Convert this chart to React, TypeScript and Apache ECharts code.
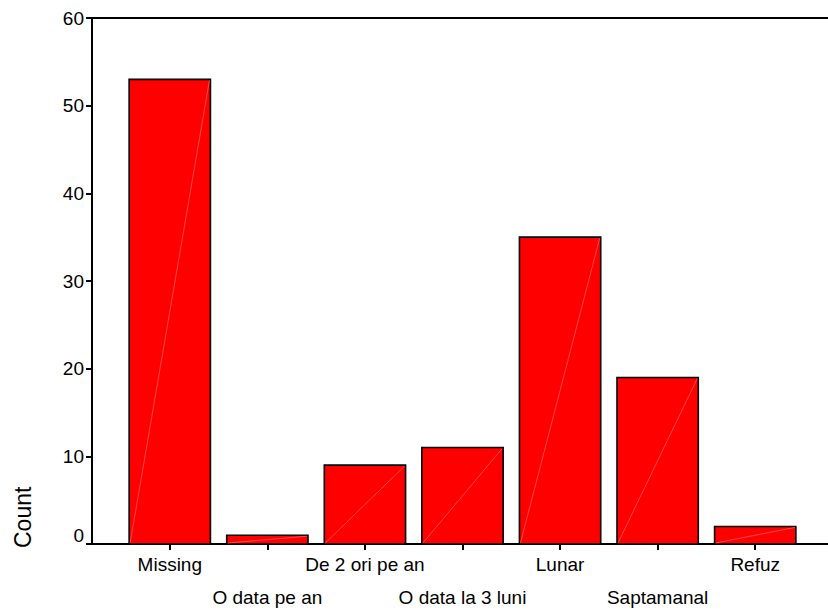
import React, { useEffect, useRef } from "react";
import * as echarts from "echarts";

const categories = [
  "Missing",
  "O data pe an",
  "De 2 ori pe an",
  "O data la 3 luni",
  "Lunar",
  "Saptamanal",
  "Refuz",
];
const counts = [53, 1, 9, 11, 35, 19, 2];
const yTicks = { min: 0, max: 60, interval: 10 };
const yName = "Count";

const FONT = "'Liberation Sans', Arial, sans-serif";

export default function App() {
  const ref = useRef<HTMLDivElement>(null);
  useEffect(() => {
    document.body.style.margin = "0";
    const chart = echarts.init(ref.current!, null, { renderer: "svg" });
    const option: any = {
      animation: false,
      backgroundColor: "#ffffff",
      grid: [
        { left: 92, right: 0, top: 18, bottom: 70 },
        { left: 121, width: 683, top: 18, bottom: 70 },
      ],
      xAxis: [
        {
          gridIndex: 0,
          type: "value",
          min: 0,
          max: 1,
          position: "bottom",
          axisLine: { show: true, lineStyle: { color: "#000", width: 2 } },
          axisTick: { show: false },
          axisLabel: { show: false },
          splitLine: { show: false },
        },
        {
          gridIndex: 0,
          type: "value",
          min: 0,
          max: 1,
          position: "top",
          axisLine: { show: true, lineStyle: { color: "#000", width: 2 } },
          axisTick: { show: false },
          axisLabel: { show: false },
          splitLine: { show: false },
        },
        {
          gridIndex: 1,
          type: "category",
          data: categories,
          boundaryGap: true,
          axisLine: { show: false },
          axisTick: {
            show: true,
            alignWithLabel: true,
            length: 6,
            lineStyle: { color: "#000", width: 2 },
          },
          axisLabel: {
            interval: 0,
            margin: 4,
            color: "#000",
            fontSize: 19,
            fontFamily: FONT,
            lineHeight: 33,
            formatter: (v: string, i: number) => (i % 2 === 1 ? "\n" + v : v),
          },
          splitLine: { show: false },
        },
      ],
      yAxis: [
        {
          gridIndex: 0,
          type: "value",
          min: yTicks.min,
          max: yTicks.max,
          interval: yTicks.interval,
          axisLine: { show: true, lineStyle: { color: "#000", width: 2 } },
          axisTick: { show: true, length: 6, lineStyle: { color: "#000", width: 2 } },
          axisLabel: {
            color: "#000",
            fontSize: 19,
            fontFamily: FONT,
            margin: 8,
            formatter: (v: number) => (v === 0 ? "{z|0}" : String(v)),
            rich: {
              z: {
                fontSize: 19,
                fontFamily: FONT,
                color: "#000",
                padding: [0, 0, 18, 0],
              },
            },
          },
          splitLine: { show: false },
        },
        {
          gridIndex: 1,
          type: "value",
          min: yTicks.min,
          max: yTicks.max,
          show: false,
        },
      ],
      graphic: [
        {
          type: "text",
          x: 23,
          y: 548,
          rotation: Math.PI / 2,
          style: {
            text: yName,
            fontSize: 23,
            fontFamily: FONT,
            fill: "#000",
            textAlign: "left",
            textVerticalAlign: "middle",
          },
        },
      ],
      series: [
        {
          type: "custom",
          xAxisIndex: 2,
          yAxisIndex: 1,
          data: counts.map((v, i) => [i, v]),
          renderItem: (params: any, api: any) => {
            const idx = api.value(0);
            const val = api.value(1);
            const top = api.coord([idx, val]);
            const base = api.coord([idx, 0]);
            const bw = api.size([1, 0])[0] * 0.833;
            const x0 = top[0] - bw / 2;
            const h = base[1] - top[1];
            return {
              type: "group",
              children: [
                {
                  type: "rect",
                  shape: { x: x0, y: top[1], width: bw, height: h },
                  style: { fill: "#ff0000", stroke: "#000", lineWidth: 1.6 },
                },
                {
                  type: "line",
                  shape: { x1: x0 + 1, y1: base[1] - 1, x2: x0 + bw - 1, y2: top[1] + 1 },
                  style: { stroke: "#ff7a7a", lineWidth: 0.6 },
                },
              ],
            };
          },
        },
      ],
    };
    chart.setOption(option);
    return () => chart.dispose();
  }, []);
  return <div ref={ref} style={{ width: 828, height: 614 }} />;
}
